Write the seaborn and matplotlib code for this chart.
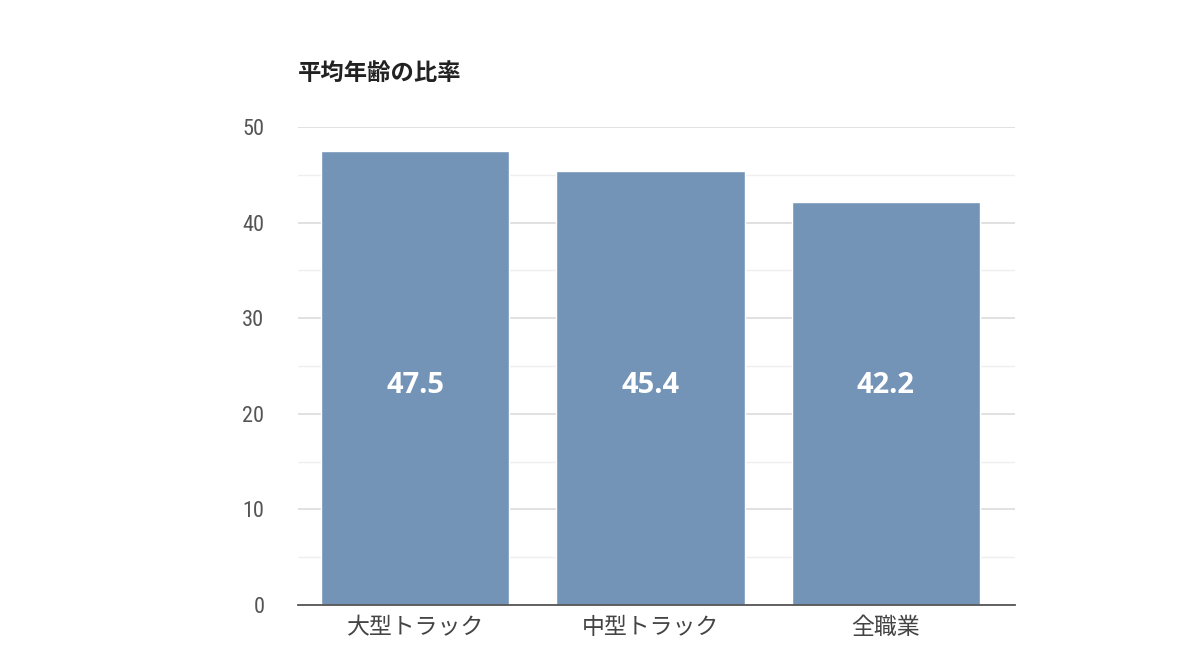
import matplotlib
matplotlib.use("Agg")
import matplotlib.pyplot as plt
import seaborn as sns
import pandas as pd
from matplotlib.ticker import MultipleLocator

categories = ["大型トラック", "中型トラック", "全職業"]
values = [47.5, 45.4, 42.2]
title = "平均年齢の比率"
yticks = [0, 10, 20, 30, 40, 50]

sns.set_theme(style="white")
plt.rcParams['font.family'] = ['Noto Sans CJK JP', 'DejaVu Sans']

df = pd.DataFrame({"cat": categories, "val": values})

fig = plt.figure(figsize=(12, 6.72), dpi=100)
ax = fig.add_axes([0.248, 0.0997, 0.598, 0.7113])

sns.barplot(data=df, x="cat", y="val", color="#7393B7", saturation=1,
            width=0.8, ax=ax, zorder=3)

ax.set_ylim(0, 50)
ax.set_xlim(-0.5, 2.55)
ax.set_yticks(yticks)
ax.yaxis.set_minor_locator(MultipleLocator(5))
ax.grid(axis="y", which="major", color="#dcdcdc", linewidth=1.2, zorder=0)
ax.grid(axis="y", which="minor", color="#efefef", linewidth=1.0, zorder=0)
ax.set_axisbelow(True)

for s in ["left", "right", "top"]:
    ax.spines[s].set_visible(False)
ax.spines["bottom"].set_color("#555555")
ax.spines["bottom"].set_linewidth(1.3)
ax.spines["bottom"].set_zorder(4)

ax.set_xlabel("")
ax.set_ylabel("")
ax.tick_params(axis="y", which="both", length=0, pad=24, labelsize=16, labelcolor="#555555")
ax.tick_params(axis="x", length=0, pad=8, labelsize=16.5, labelcolor="#444444")
for lab in ax.get_yticklabels():
    lab.set_fontfamily(['Roboto Condensed', 'Roboto', 'DejaVu Sans'])

for i, v in enumerate(values):
    ax.text(i, 23, f"{v:.1f}", ha="center", va="center", color="white",
            fontsize=21, fontweight="bold", family=['Open Sans', 'DejaVu Sans'], zorder=5)

fig.text(0.248, 0.892, title, ha="left", va="center", fontsize=16.8,
         fontweight="bold", color="#222222")

fig.savefig("out.png", dpi=100, facecolor="white")
